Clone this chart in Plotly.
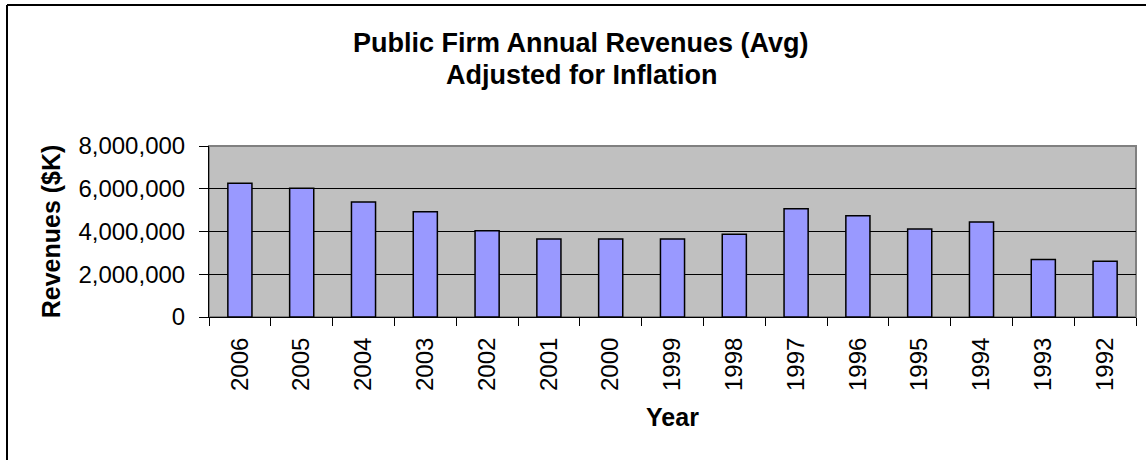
import plotly.graph_objects as go

years = ["2006", "2005", "2004", "2003", "2002", "2001", "2000", "1999",
         "1998", "1997", "1996", "1995", "1994", "1993", "1992"]
revenues = [6260000, 6020000, 5380000, 4920000, 4040000, 3650000, 3650000, 3650000,
            3870000, 5070000, 4740000, 4120000, 4450000, 2690000, 2610000]
y_ticks = [0, 2000000, 4000000, 6000000, 8000000]
y_tick_labels = ["0", "2,000,000", "4,000,000", "6,000,000", "8,000,000"]
title_lines = ["Public Firm Annual Revenues (Avg)", "Adjusted for Inflation"]

W, H = 1146, 460
ML, MR, MT, MB = 209, 10, 146, 143
pw, ph = W - ML - MR, H - MT - MB

def px_x(p):
    return (p - ML) / pw

def px_y(p):
    return (H - MB - p) / ph

FONT = "Liberation Sans, Arial, sans-serif"

fig = go.Figure(go.Bar(
    x=years, y=revenues,
    marker=dict(color="#9999FF", line=dict(color="black", width=1.5)),
))

annotations = []
for line, yc in zip(title_lines, [43, 75]):
    annotations.append(dict(
        text="<b>" + line + "</b>", showarrow=False,
        xref="paper", yref="paper", x=px_x(581), y=px_y(yc),
        xanchor="center", yanchor="middle",
        font=dict(size=27, family=FONT, color="black"),
    ))

fig.update_layout(
    width=W, height=H,
    margin=dict(l=ML, r=MR, t=MT, b=MB, autoexpand=False),
    paper_bgcolor="white",
    plot_bgcolor="#C0C0C0",
    bargap=0.61,
    showlegend=False,
    font=dict(family=FONT, color="black"),
    annotations=annotations,
    xaxis=dict(
        type="category",
        tickangle=-90,
        tickfont=dict(size=24),
        ticks="outside", ticklen=8, tickcolor="black", tickwidth=1,
        ticklabelstandoff=10,
        tickson="boundaries",
        showgrid=False,
        showline=True, linecolor="black", linewidth=1,
        title=dict(text="<b>Year</b>", font=dict(size=25), standoff=18),
    ),
    yaxis=dict(
        range=[0, 8000000],
        tickvals=y_ticks, ticktext=y_tick_labels,
        tickfont=dict(size=24),
        ticks="outside", ticklen=9, tickcolor="black", tickwidth=1,
        ticklabelstandoff=9,
        showgrid=True, gridcolor="black", gridwidth=1,
        zeroline=False,
        showline=True, linecolor="black", linewidth=1,
        title=dict(text="<b>Revenues ($K)</b>", font=dict(size=25), standoff=10),
    ),
    shapes=[
        dict(type="rect", xref="paper", yref="paper", x0=0, x1=1, y0=0, y1=1,
             line=dict(color="#808080", width=2), layer="below"),
        dict(type="line", xref="paper", yref="paper",
             x0=px_x(7), x1=px_x(1150), y0=px_y(5), y1=px_y(5),
             line=dict(color="black", width=2)),
        dict(type="line", xref="paper", yref="paper",
             x0=px_x(7), x1=px_x(7), y0=px_y(5), y1=px_y(470),
             line=dict(color="black", width=2)),
    ],
)

fig.write_html("out.html", config={"displayModeBar": False},
               post_script="document.body.style.margin='0';")
